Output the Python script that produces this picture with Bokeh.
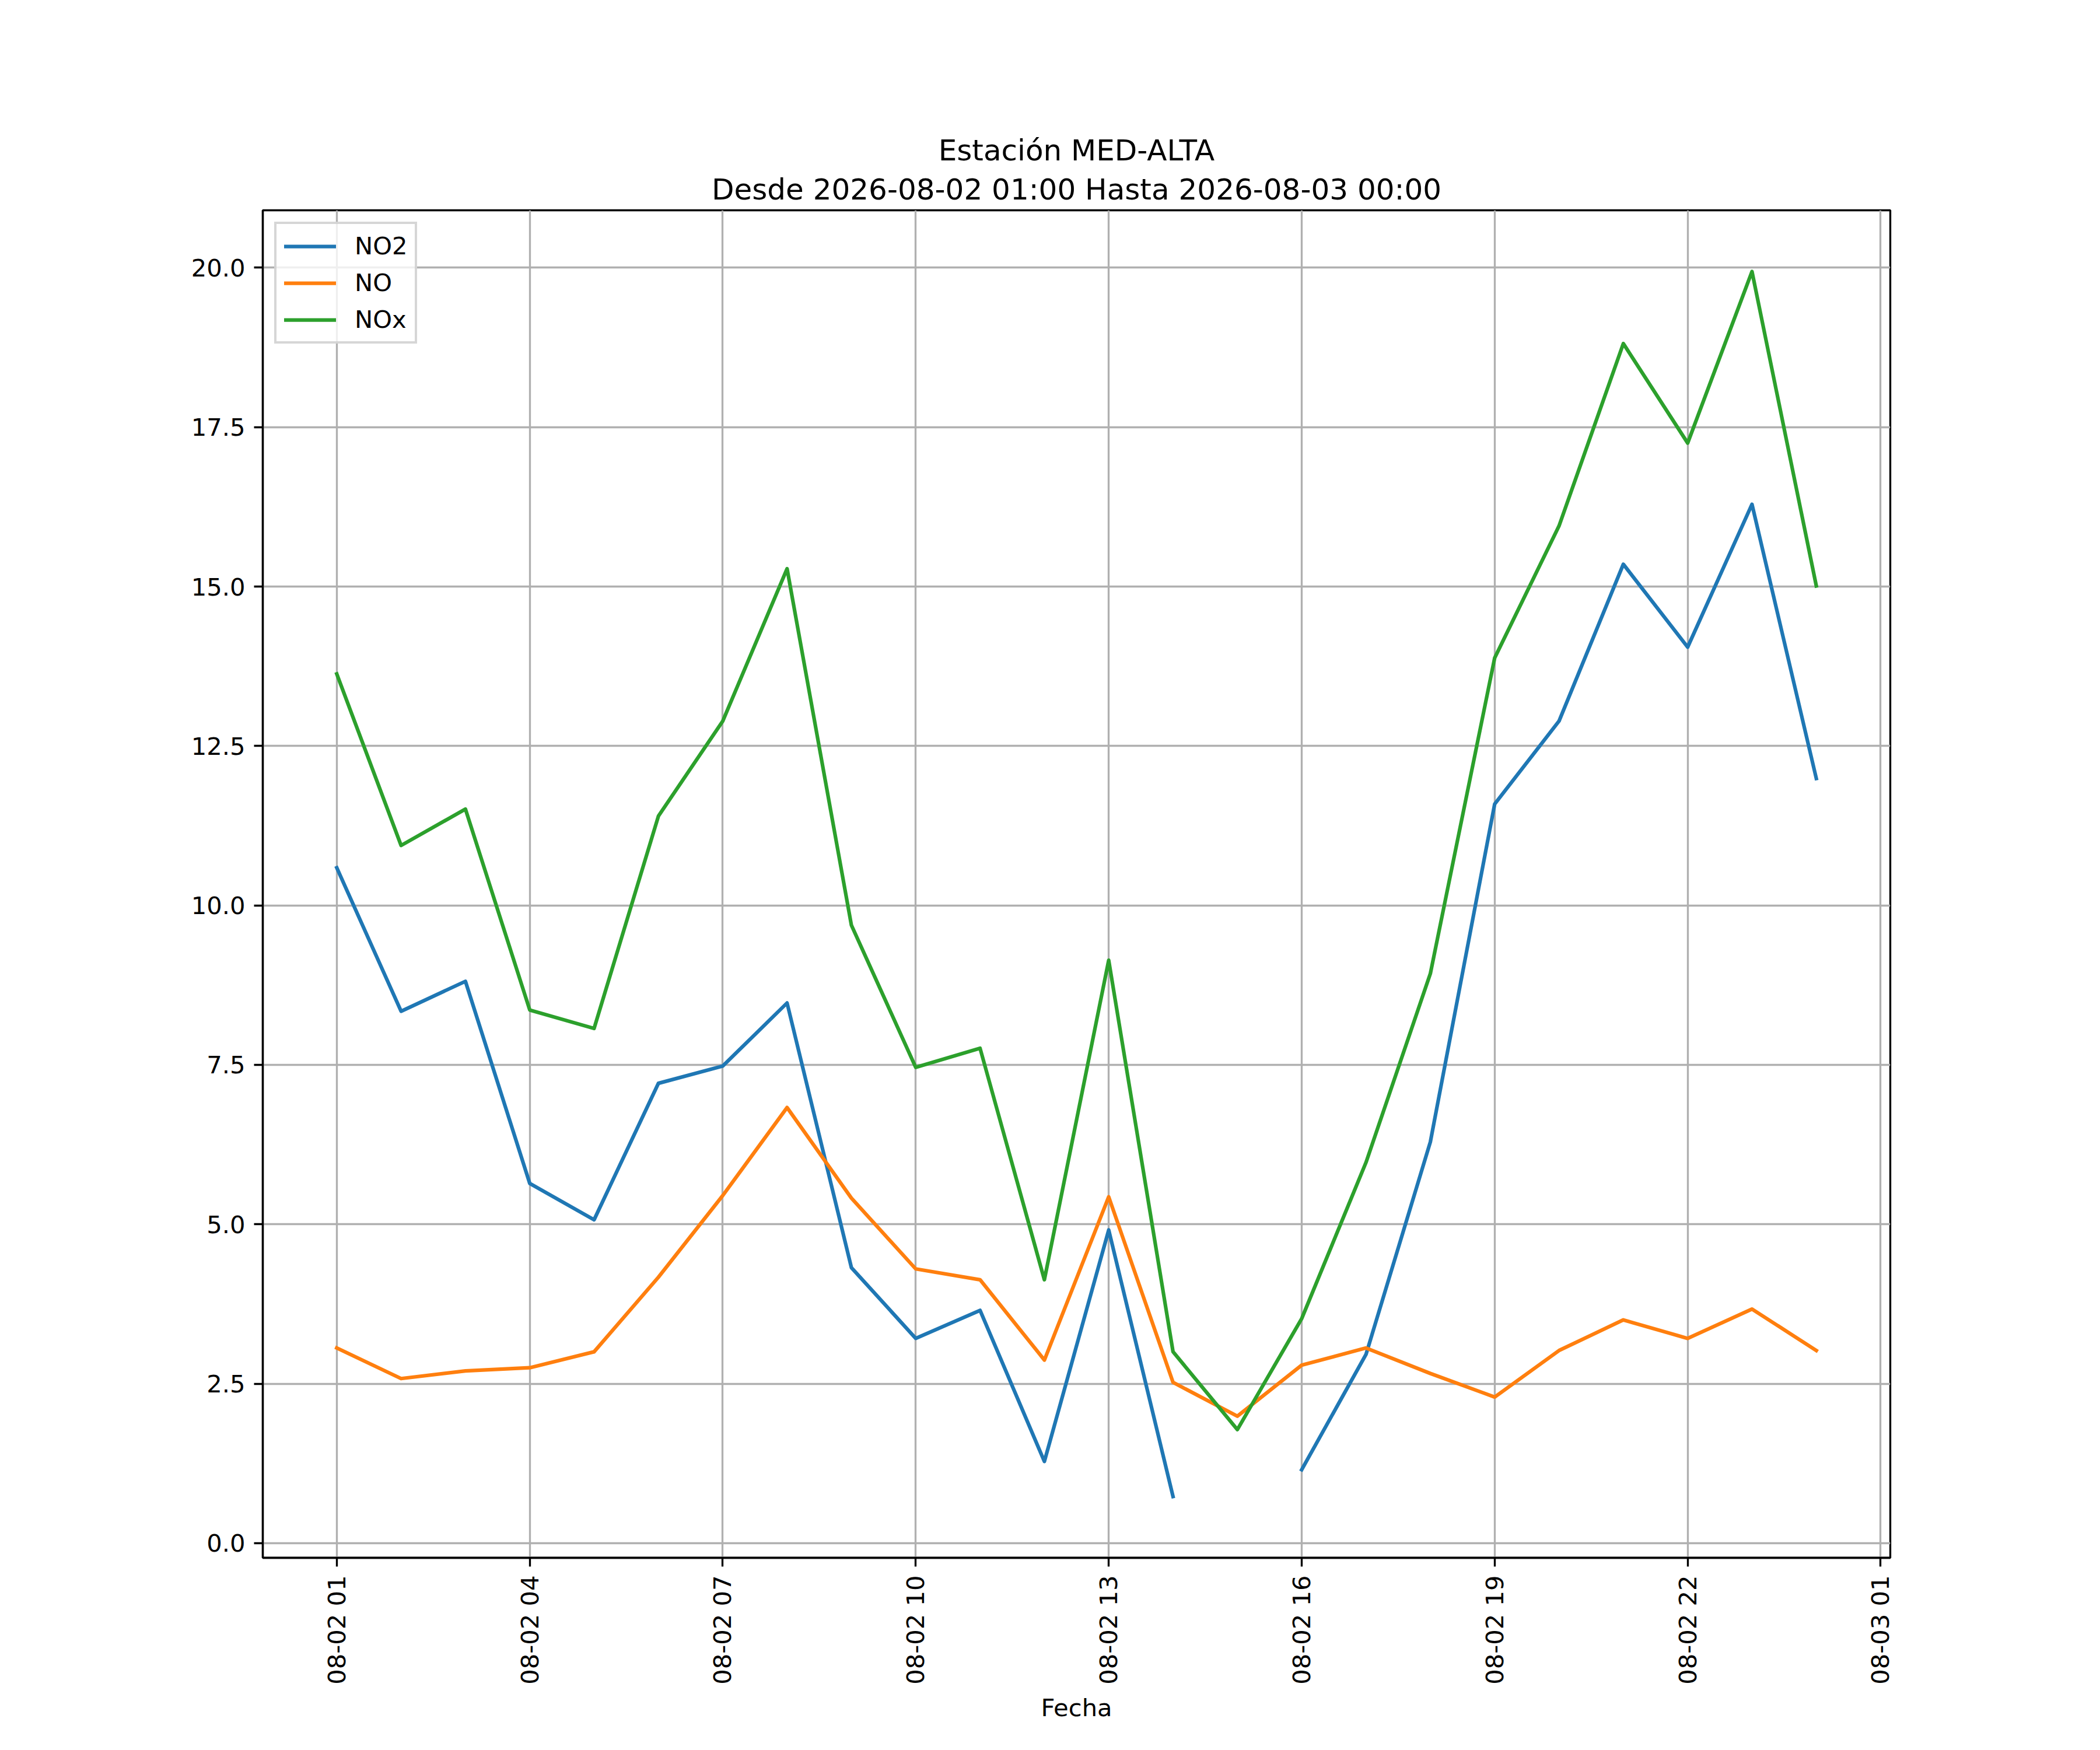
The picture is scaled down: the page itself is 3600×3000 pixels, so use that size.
import math
import pandas as pd
import numpy as np
from bokeh.plotting import figure
from bokeh.models import Range1d, FixedTicker, DatetimeTickFormatter, NumeralTickFormatter, Title, ColumnDataSource
from bokeh.embed import file_html
from bokeh.resources import INLINE

# ---- data ----
fechas = pd.date_range("2026-08-02 01:00", periods=24, freq="h")
no2 = [10.59, 8.34, 8.81, 5.64, 5.07, 7.21, 7.48, 8.47, 4.32, 3.21, 3.65, 1.28,
       4.91, 0.73, np.nan, 1.15, 2.96, 6.29, 11.59, 12.89, 15.35, 14.05, 16.29, 11.99]
no = [3.06, 2.58, 2.70, 2.75, 3.00, 4.17, 5.45, 6.83, 5.41, 4.30, 4.13, 2.87,
      5.43, 2.52, 1.99, 2.79, 3.06, 2.66, 2.29, 3.02, 3.50, 3.21, 3.67, 3.02]
nox = [13.63, 10.94, 11.51, 8.36, 8.07, 11.40, 12.89, 15.28, 9.69, 7.46, 7.76, 4.13,
       9.14, 3.00, 1.78, 3.52, 5.97, 8.93, 13.88, 15.95, 18.81, 17.25, 19.94, 15.01]
series_names = ["NO2", "NO", "NOx"]
titulo_1 = "Estación MED-ALTA"
titulo_2 = "Desde 2026-08-02 01:00 Hasta 2026-08-03 00:00"
eje_x = "Fecha"

colors = ["#1f77b4", "#ff7f0e", "#2ca02c"]
FONT = "DejaVu Sans"
PT = 300.0 / 72.0

# ranges with matplotlib-like 5% margins
t0, t1 = fechas[0], fechas[-1]
span = t1 - t0
x_start = (t0 - 0.05 * span).to_pydatetime()
x_end = (t1 + 0.05 * span).to_pydatetime()
allv = np.array(no2 + no + nox, dtype=float)
vmin, vmax = float(np.nanmin(allv)), float(np.nanmax(allv))
vr = vmax - vmin

FL, FT, FW, FH = 450, 360, 2790, 2310
p = figure(
    x_axis_type="datetime",
    frame_width=FW, frame_height=FH,
    min_border_left=FL, min_border_top=FT,
    min_border_right=3584 - FL - FW, min_border_bottom=2984 - FT - FH,
    x_range=Range1d(x_start, x_end), y_range=Range1d(vmin - 0.05 * vr, vmax + 0.05 * vr),
    output_backend="svg", toolbar_location=None, title=None,
    background_fill_color="white", border_fill_color="white",
)

src = ColumnDataSource(dict(t=list(fechas.to_pydatetime()), NO2=no2, NO=no, NOx=nox))
for name, c in zip(series_names, colors):
    p.line("t", name, source=src, line_color=c, line_width=1.5 * PT,
           line_join="round", line_cap="square", legend_label=name)

# ticks
xticks = [int((t0 + pd.Timedelta(hours=3 * k)).value // 10**6) for k in range(9)]
p.xaxis.ticker = FixedTicker(ticks=xticks)
fmt = "%m-%d %H"
p.xaxis.formatter = DatetimeTickFormatter(
    microseconds=fmt, milliseconds=fmt, seconds=fmt, minsec=fmt, minutes=fmt,
    hourmin=fmt, hours=fmt, days=fmt, months=fmt, years=fmt)
p.xaxis.major_label_orientation = math.pi / 2
p.yaxis.ticker = FixedTicker(ticks=[0, 2.5, 5, 7.5, 10, 12.5, 15, 17.5, 20])
p.yaxis.formatter = NumeralTickFormatter(format="0.0")

for ax in (p.xaxis[0], p.yaxis[0]):
    ax.major_label_text_font = FONT
    ax.major_label_text_font_size = f"{10 * PT:.2f}px"
    ax.major_label_text_color = "black"
    ax.major_tick_in = 0
    ax.major_tick_out = int(round(3.5 * PT))
    ax.major_tick_line_width = 0.8 * PT
    ax.major_tick_line_color = "black"
    ax.minor_tick_line_color = None
    ax.axis_line_width = 0.8 * PT
    ax.axis_line_color = "black"
    ax.major_label_standoff = int(round(3.5 * PT))

p.xaxis.axis_label = eje_x
p.xaxis.axis_label_text_font = FONT
p.xaxis.axis_label_text_font_size = f"{10 * PT:.2f}px"
p.xaxis.axis_label_text_font_style = "normal"
p.xaxis.axis_label_text_color = "black"
p.xaxis.axis_label_standoff = 12

p.outline_line_color = "black"
p.outline_line_width = 0.8 * PT
p.grid.grid_line_color = "#b0b0b0"
p.grid.grid_line_width = 0.8 * PT

# two title lines above the frame, each centred (line 2 nearest the frame)
for txt, so in ((titulo_2, 14), (titulo_1, 0)):
    p.add_layout(Title(text=txt, align="center",
                       text_font=FONT, text_font_size=f"{12 * PT:.2f}px",
                       text_font_style="normal", text_color="black",
                       standoff=so), "above")

lg = p.legend[0]
lg.location = "top_left"
lg.margin = 20
lg.padding = 13
lg.spacing = 14
lg.label_height = 42
lg.glyph_height = 42
lg.glyph_width = 89
lg.label_standoff = 32
lg.label_text_font = FONT
lg.label_text_font_size = f"{10 * PT:.2f}px"
lg.label_text_color = "black"
lg.border_line_color = "#cccccc"
lg.border_line_alpha = 0.8
lg.border_line_width = 1.0 * PT
lg.background_fill_color = "white"
lg.background_fill_alpha = 0.8

open("out.html", "w").write(file_html(p, INLINE))
